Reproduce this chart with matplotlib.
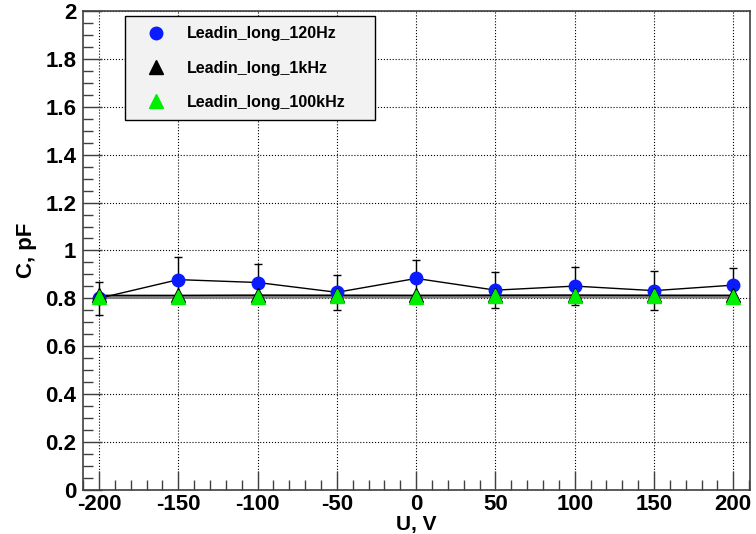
import numpy as np
import matplotlib.pyplot as plt
from matplotlib.ticker import MultipleLocator, FuncFormatter
from matplotlib.lines import Line2D

# data
u = [-200, -150, -100, -50, 0, 50, 100, 150, 200]
c_120hz = [0.800, 0.878, 0.866, 0.825, 0.883, 0.834, 0.851, 0.832, 0.855]
err_120hz = [0.069, 0.095, 0.076, 0.072, 0.076, 0.076, 0.080, 0.082, 0.070]
c_1khz = [0.812, 0.812, 0.813, 0.812, 0.812, 0.812, 0.813, 0.812, 0.812]
c_100khz = [0.806, 0.806, 0.807, 0.808, 0.807, 0.809, 0.808, 0.808, 0.807]
names = ['Leadin_long_120Hz', 'Leadin_long_1kHz', 'Leadin_long_100kHz']

plt.rcParams['font.family'] = ['Liberation Sans', 'DejaVu Sans']
plt.rcParams['font.weight'] = 'bold'
plt.rcParams['axes.unicode_minus'] = False

fig = plt.figure(figsize=(7.56, 5.34), dpi=100)
ax = fig.add_axes([0.110, 0.083, 0.882, 0.896])

blue = '#0a1bff'
green = '#00ee00'

# lines
ax.plot(u, c_100khz, color='#808080', lw=3, zorder=2)
ax.plot(u, c_1khz, color='black', lw=1, zorder=2)
ax.plot(u, c_120hz, color='black', lw=1, zorder=2)

ax.errorbar(u, c_120hz, yerr=err_120hz, fmt='o', color=blue, ms=9,
            ecolor='black', elinewidth=1, capsize=3, capthick=1, zorder=3)
ax.plot(u, c_1khz, '^', color='black', ms=10, ls='none', zorder=4)
ax.plot(u, c_100khz, '^', color=green, ms=10, ls='none', zorder=5)

ax.set_xlim(-210, 210.5)
ax.set_ylim(0, 2)

ax.xaxis.set_major_locator(MultipleLocator(50))
ax.xaxis.set_minor_locator(MultipleLocator(10))
ax.yaxis.set_major_locator(MultipleLocator(0.2))
ax.yaxis.set_minor_locator(MultipleLocator(0.05))
ax.yaxis.set_major_formatter(FuncFormatter(lambda v, p: ('%g' % round(v, 2))))
ax.xaxis.set_major_formatter(FuncFormatter(lambda v, p: ('%g' % round(v, 2))))

ax.tick_params(which='both', direction='in', top=False, right=False, colors='#404040',
               labelcolor='black', labelsize=16)
ax.tick_params(which='major', length=14, width=1)
ax.tick_params(which='minor', length=7, width=1)
ax.tick_params(axis='y', pad=5)
ax.tick_params(axis='x', pad=3)

ax.grid(True, which='major', ls=':', color='black', lw=0.8)

for s in ax.spines.values():
    s.set_color('#404040')
    s.set_linewidth(1.2)

ax.set_ylabel('C, pF', fontsize=16, fontweight='bold', labelpad=6)
ax.set_xlabel('U, V', fontsize=15, fontweight='bold', labelpad=0)

handles = [
    Line2D([], [], marker='o', color=blue, ls='none', ms=9),
    Line2D([], [], marker='^', color='black', ls='none', ms=10),
    Line2D([], [], marker='^', color=green, ls='none', ms=10),
]
leg = ax.legend(handles, names, loc='upper left',
                bbox_to_anchor=(0.063, 0.99, 0.375, 0.0), mode='expand',
                fontsize=11.5, frameon=True, fancybox=False, edgecolor='black',
                facecolor='#f2f2f2', borderpad=0.65, labelspacing=1.2,
                handletextpad=0.7, borderaxespad=0, handlelength=2.5, numpoints=1)
leg.get_frame().set_linewidth(1)
leg.get_frame().set_alpha(1)
for t in leg.get_texts():
    t.set_fontweight('bold')

fig.savefig('out.png', dpi=100)
